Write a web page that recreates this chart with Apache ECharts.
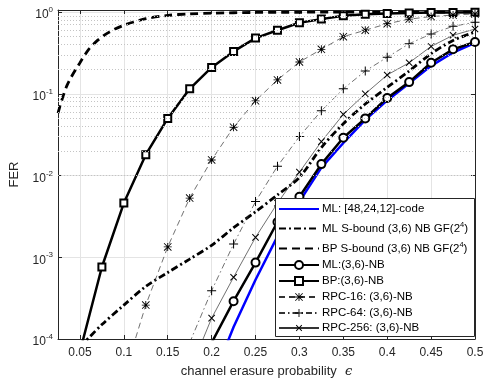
<!DOCTYPE html>
<html>
<head>
<meta charset="utf-8">
<script src="https://cdn.jsdelivr.net/npm/echarts@6/dist/echarts.min.js"></script>
<style>
  html, body { margin: 0; padding: 0; background: #fff; }
  #chart { width: 490px; height: 385px; }
</style>
</head>
<body>
<div id="chart"></div>
<script>
// tick values
var xTicks = [0.05, 0.1, 0.15, 0.2, 0.25, 0.3, 0.35, 0.4, 0.45, 0.5];
var yDecades = [1e-4, 1e-3, 1e-2, 1e-1];

// ML: [48,24,12]-code (blue)
var mlCodeX = [0.2, 0.225, 0.25, 0.275, 0.3, 0.325, 0.35, 0.375, 0.4, 0.425, 0.45, 0.475, 0.5];
var mlCodeY = [3e-5, 1.4e-4, 5.3e-4, 1.8e-3, 4.8e-3, 0.0125, 0.025, 0.048, 0.083, 0.135, 0.22, 0.32, 0.42];

// ML S-bound (3,6) NB GF(2^4)
var mlSbX = [0.05, 0.075, 0.1, 0.125, 0.15, 0.175, 0.2, 0.225, 0.25, 0.275, 0.3, 0.325, 0.35, 0.375, 0.4, 0.425, 0.45, 0.475, 0.5];
var mlSbY = [8e-5, 1.5e-4, 2.6e-4, 4.4e-4, 6.5e-4, 9.5e-4, 1.4e-3, 2.3e-3, 3.6e-3, 5.8e-3, 9.5e-3, 0.022, 0.043, 0.075, 0.12, 0.19, 0.31, 0.45, 0.57];

// BP S-bound (3,6) NB GF(2^4)
var bpSbX = [0.025, 0.03, 0.035, 0.04, 0.05, 0.06, 0.07, 0.08, 0.09, 0.1, 0.11, 0.125, 0.15, 0.175, 0.2, 0.25, 0.3, 0.35, 0.4, 0.45, 0.5];
var bpSbY = [0.058, 0.088, 0.125, 0.16, 0.24, 0.35, 0.45, 0.54, 0.62, 0.69, 0.75, 0.83, 0.91, 0.95, 0.97, 0.99, 0.995, 0.998, 1, 1, 1];

// ML:(3,6)-NB
var mlNbX = [0.2, 0.225, 0.25, 0.275, 0.3, 0.325, 0.35, 0.375, 0.4, 0.425, 0.45, 0.475, 0.5];
var mlNbY = [9e-5, 2.9e-4, 8.6e-4, 2.7e-3, 5.5e-3, 0.0138, 0.029, 0.05, 0.089, 0.139, 0.24, 0.35, 0.43];

// BP:(3,6)-NB
var bpNbX = [0.05, 0.075, 0.1, 0.125, 0.15, 0.175, 0.2, 0.225, 0.25, 0.275, 0.3, 0.325, 0.35, 0.375, 0.4, 0.425, 0.45, 0.475, 0.5];
var bpNbY = [7e-5, 7.6e-4, 4.6e-3, 0.018, 0.05, 0.115, 0.21, 0.33, 0.48, 0.6, 0.74, 0.82, 0.9, 0.94, 0.96, 0.975, 0.985, 0.99, 0.995];

// RPC-16
var rpc16X = [0.1, 0.125, 0.15, 0.175, 0.2, 0.225, 0.25, 0.275, 0.3, 0.325, 0.35, 0.375, 0.4, 0.425, 0.45, 0.475, 0.5];
var rpc16Y = [3.5e-5, 2.6e-4, 1.34e-3, 5.3e-3, 0.0155, 0.039, 0.082, 0.148, 0.245, 0.35, 0.5, 0.6, 0.72, 0.82, 0.88, 0.92, 0.95];

// RPC-64
var rpc64X = [0.175, 0.2, 0.225, 0.25, 0.275, 0.3, 0.325, 0.35, 0.375, 0.4, 0.425, 0.45, 0.475, 0.5];
var rpc64Y = [9e-5, 3.9e-4, 1.45e-3, 4.8e-3, 0.013, 0.03, 0.062, 0.115, 0.19, 0.28, 0.41, 0.54, 0.67, 0.75];

// RPC-256
var rpc256X = [0.175, 0.2, 0.225, 0.25, 0.275, 0.3, 0.325, 0.35, 0.375, 0.4, 0.425, 0.45, 0.475, 0.5];
var rpc256Y = [4e-5, 1.8e-4, 5.7e-4, 1.75e-3, 4.6e-3, 0.011, 0.026, 0.056, 0.1, 0.17, 0.24, 0.38, 0.52, 0.62];

var names = [
  'ML: [48,24,12]-code',
  'ML S-bound (3,6) NB GF(2^4)',
  'BP S-bound (3,6) NB GF(2^4)',
  'ML:(3,6)-NB',
  'BP:(3,6)-NB',
  'RPC-16: (3,6)-NB',
  'RPC-64: (3,6)-NB',
  'RPC-256: (3,6)-NB'
];
// vertical centre of each legend row (px)
var legendRows = [209, 229, 249, 265, 281, 297, 313, 328];

var FONT = 'Liberation Sans, Arial, sans-serif';
var plusPath = 'path://M4,0L5,0L5,9L4,9Z M0,4L9,4L9,5L0,5Z';
var starPath = 'path://M4,0L5,0L5,9L4,9Z M0,4L9,4L9,5L0,5Z M0,0.7L0.7,0L9,8.3L8.3,9Z M8.3,0L9,0.7L0.7,9L0,8.3Z';
var NOFILL = 'rgba(0,0,0,0)';

function pairs(xs, ys) {
  return xs.map(function (x, i) { return [x, ys[i]]; });
}

// dotted minor grid at 2..9 x 10^k
var minorVals = [];
yDecades.forEach(function (d) {
  for (var k = 2; k <= 9; k++) minorVals.push(k * d);
});

function isDecade(v) {
  var l = Math.log10(v);
  return Math.abs(l - Math.round(l)) < 0.005;
}

var legends = names.map(function (name, i) {
  var sup = name.indexOf('^4') > 0;
  return {
    data: [name],
    orient: 'vertical',
    left: 275,
    top: legendRows[i] - (sup ? 8 : 6),
    padding: [0, 0, 0, 3],
    itemWidth: 40,
    itemHeight: 10,
    selectedMode: false,
    z: 6,
    formatter: function (n) {
      if (n.indexOf('^4') > 0) {
        return '{a|' + n.replace('^4)', '') + '}{s|4}{a|)}';
      }
      return n;
    },
    textStyle: {
      fontSize: 11.5,
      color: '#000',
      padding: [0, 0, 0, -2],
      rich: {
        a: { fontSize: 11.5, color: '#000' },
        s: { fontSize: 7.5, color: '#000', padding: [0, 0, 7, 0] }
      }
    }
  };
});

var myChart = echarts.init(document.getElementById('chart'), null, { renderer: 'canvas' });

var option = {
  animation: false,
  backgroundColor: '#fff',
  textStyle: { fontFamily: FONT },
  grid: { left: 57, right: 15, top: 10, bottom: 46 },
  graphic: [{
    type: 'rect',
    z: 5,
    shape: { x: 275.5, y: 198.5, width: 199, height: 138 },
    style: { fill: '#fff', stroke: '#262626', lineWidth: 1 }
  }],
  xAxis: [{
    type: 'value',
    min: 0.025,
    max: 0.5,
    name: '{a|channel erasure probability}{e|  \u03f5}',
    nameLocation: 'middle',
    nameGap: 26,
    nameTextStyle: {
      rich: {
        a: { fontSize: 13, color: '#262626', fontFamily: FONT },
        e: { fontSize: 13, color: '#262626', fontStyle: 'italic', fontFamily: 'DejaVu Serif' }
      }
    },
    axisLine: { onZero: false, lineStyle: { color: '#262626' } },
    axisTick: { customValues: xTicks, inside: true, length: 4, lineStyle: { color: '#262626' } },
    axisLabel: { customValues: xTicks, fontSize: 12, color: '#262626', margin: 8 },
    splitLine: { show: true, lineStyle: { color: '#e4e4e4', width: 1 } }
  }, {
    type: 'value',
    position: 'top',
    min: 0.025,
    max: 0.5,
    axisLine: { onZero: false, lineStyle: { color: '#262626' } },
    axisTick: { customValues: xTicks, inside: true, length: 4, lineStyle: { color: '#262626' } },
    axisLabel: { show: false },
    splitLine: { show: false }
  }],
  yAxis: [{
    type: 'log',
    logBase: 10,
    min: 1e-4,
    max: 1.06,
    name: 'FER',
    nameLocation: 'middle',
    nameGap: 37,
    nameTextStyle: { fontSize: 13, color: '#262626' },
    axisLine: { onZero: false, lineStyle: { color: '#262626' } },
    axisTick: { inside: true, length: 4, lineStyle: { color: '#262626' } },
    axisLabel: {
      margin: 5,
      formatter: function (v) {
        if (!isDecade(v)) return '';
        return '{b|10}{s|' + Math.round(Math.log10(v)) + '}';
      },
      rich: {
        b: { fontSize: 12, color: '#262626', padding: [6, 0, 0, 0] },
        s: { fontSize: 8, color: '#262626', padding: [0, 0, 4, 0] }
      }
    },
    splitLine: { show: true, lineStyle: { color: '#e4e4e4', width: 1 } }
  }, {
    type: 'log',
    logBase: 10,
    min: 1e-4,
    max: 1.06,
    position: 'right',
    axisLine: { onZero: false, lineStyle: { color: '#262626' } },
    axisTick: { inside: true, length: 4, lineStyle: { color: '#262626' } },
    axisLabel: { show: false },
    splitLine: { show: false }
  }],
  legend: legends,
  series: [
    {
      name: 'grid-minor',
      type: 'line',
      data: [],
      silent: true,
      z: 0,
      markLine: {
        silent: true,
        symbol: 'none',
        label: { show: false },
        lineStyle: { type: [1, 2], color: '#c4c4c4', width: 1 },
        data: minorVals.map(function (v) { return { yAxis: v }; })
      }
    },
    {
      name: names[0], type: 'line', data: pairs(mlCodeX, mlCodeY),
      symbol: 'circle', showSymbol: false, clip: true,
      lineStyle: { color: '#0000ff', width: 2.5 }, itemStyle: { color: NOFILL }
    },
    {
      name: names[1], type: 'line', data: pairs(mlSbX, mlSbY),
      symbol: 'circle', showSymbol: false, clip: true, smooth: 0.3,
      lineStyle: { color: '#000', width: 2.8, type: [7, 3, 2, 3] }, itemStyle: { color: NOFILL }
    },
    {
      name: names[2], type: 'line', data: pairs(bpSbX, bpSbY),
      symbol: 'circle', showSymbol: false, clip: true, smooth: 0.3,
      lineStyle: { color: '#000', width: 2.8, type: [8, 5] }, itemStyle: { color: NOFILL }
    },
    {
      name: names[3], type: 'line', data: pairs(mlNbX, mlNbY),
      symbol: 'emptyCircle', symbolSize: 8, clip: true,
      lineStyle: { color: '#000', width: 2.5 },
      itemStyle: { color: '#000', borderWidth: 2 }
    },
    {
      name: names[4], type: 'line', data: pairs(bpNbX, bpNbY),
      symbol: 'emptyRect', symbolSize: 7, clip: true,
      lineStyle: { color: '#000', width: 2.5 },
      itemStyle: { color: '#000', borderWidth: 2 }
    },
    {
      name: names[5], type: 'line', data: pairs(rpc16X, rpc16Y),
      symbol: starPath, symbolSize: 8, clip: true,
      lineStyle: { color: '#333', width: 0.7, type: [6, 4] },
      itemStyle: { color: '#000' }
    },
    {
      name: names[6], type: 'line', data: pairs(rpc64X, rpc64Y),
      symbol: plusPath, symbolSize: 9, clip: true,
      lineStyle: { color: '#333', width: 0.7, type: [6, 3, 1.5, 3] },
      itemStyle: { color: '#000' }
    },
    {
      name: names[7], type: 'line', data: pairs(rpc256X, rpc256Y),
      symbol: plusPath, symbolSize: 9, symbolRotate: 45, clip: true,
      lineStyle: { color: '#333', width: 0.7 },
      itemStyle: { color: '#000' }
    }
  ]
};

myChart.setOption(option);
</script>
</body>
</html>
